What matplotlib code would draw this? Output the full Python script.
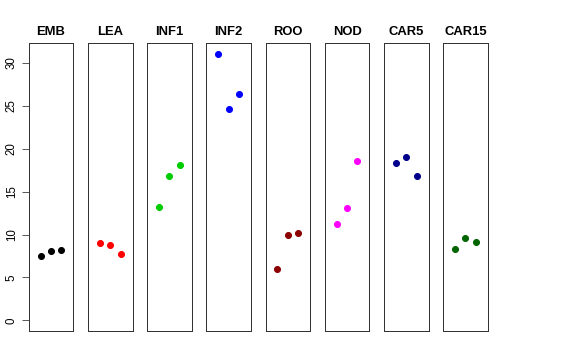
import matplotlib
matplotlib.use("Agg")
import matplotlib.pyplot as plt

plt.rcParams['font.family'] = ['Liberation Sans', 'DejaVu Sans']

tissues = ['EMB', 'LEA', 'INF1', 'INF2', 'ROO', 'NOD', 'CAR5', 'CAR15']
values = [
    [7.5, 8.1, 8.2],
    [9.05, 8.8, 7.7],
    [13.25, 16.85, 18.1],
    [31.05, 24.7, 26.35],
    [6.0, 10.0, 10.2],
    [11.2, 13.15, 18.6],
    [18.4, 19.0, 16.85],
    [8.3, 9.6, 9.15],
]
colors = ['black', 'red', '#00CD00', 'blue', '#8B0000', 'magenta', '#00008B', '#006400']
yticks = [0, 5, 10, 15, 20, 25, 30]
ymax = 31.06

W, H = 576, 360
fig = plt.figure(figsize=(W / 72, H / 72), dpi=72)

left0 = 28.7
step = 59.2
pw = 44.6
top = 43.3
bottom = 331

for i, (name, vals, col) in enumerate(zip(tissues, values, colors)):
    ax = fig.add_axes([(left0 + i * step) / W, (H - bottom) / H, pw / W, (bottom - top) / H])
    ax.plot([1, 2, 3], vals, 'o', color=col, ms=6, mec=col)
    ax.set_xlim(-0.16, 4.16)
    ax.set_ylim(-0.04 * ymax, ymax * 1.04)
    ax.set_xticks([])
    ax.set_title(name, fontsize=13, fontweight='bold', pad=8)
    for s in ax.spines.values():
        s.set_color('#333333')
        s.set_linewidth(1)
    if i == 0:
        ax.set_yticks(yticks)
        ax.set_yticklabels([str(t) for t in yticks], rotation=90, va='center', fontsize=11.5)
        ax.tick_params(axis='y', length=7, pad=4, color='#333333')
    else:
        ax.set_yticks([])

fig.savefig('out.png', dpi=72)
